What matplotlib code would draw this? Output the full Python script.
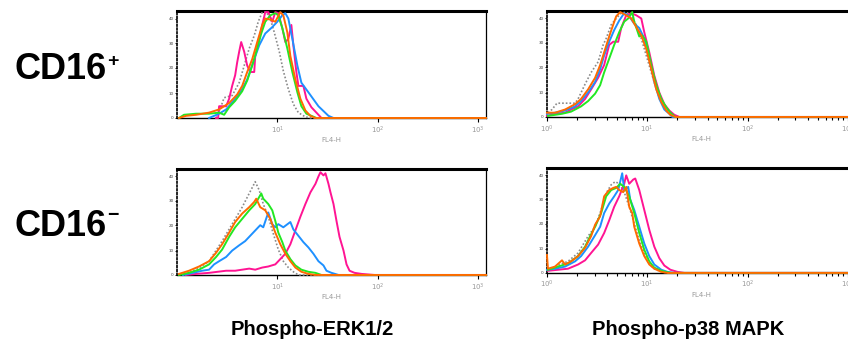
import numpy as np
import matplotlib.pyplot as plt
from matplotlib.ticker import LogLocator, NullFormatter, LogFormatterMathtext

# Each curve: (log10 FL4-H, % of panel height).

# ---- Phospho-ERK1/2, CD16+ ----
erk_pos_gray = [(0.39, 0), (0.44, 11), (0.47, 19), (0.55, 21), (0.62, 33), (0.67, 49), (0.72, 65),
                (0.77, 77), (0.81, 90), (0.85, 99), (0.89, 99), (0.93, 93), (0.97, 80), (1.02, 62),
                (1.06, 44), (1.11, 27), (1.16, 13), (1.21, 5), (1.28, 1), (1.34, 0), (3.08, 0)]
erk_pos_magenta = [(0.39, 0), (0.41, 0), (0.42, 11), (0.49, 11), (0.52, 18), (0.55, 30), (0.58, 40),
                   (0.60, 52), (0.62, 62), (0.64, 71), (0.67, 62), (0.70, 49), (0.73, 43), (0.77, 43),
                   (0.78, 58), (0.82, 74), (0.85, 87), (0.88, 99), (0.91, 99), (0.95, 90), (0.98, 99),
                   (1.01, 98), (1.05, 84), (1.08, 71), (1.11, 74), (1.14, 87), (1.16, 68), (1.19, 43),
                   (1.21, 30), (1.26, 30), (1.29, 18), (1.34, 10), (1.39, 5), (1.44, 0), (3.08, 0)]
erk_pos_blue = [(0.32, 0), (0.42, 4), (0.49, 8), (0.58, 18), (0.65, 27), (0.70, 36), (0.77, 55),
                (0.82, 68), (0.88, 79), (0.95, 85), (1.00, 90), (1.05, 96), (1.08, 98), (1.11, 93),
                (1.15, 74), (1.20, 49), (1.24, 33), (1.31, 24), (1.41, 11), (1.51, 2), (1.56, 0), (3.08, 0)]
erk_pos_green = [(0.02, 0), (0.07, 3), (0.19, 4), (0.32, 4), (0.42, 5), (0.47, 3), (0.52, 10),
                 (0.58, 16), (0.65, 25), (0.70, 35), (0.75, 49), (0.80, 65), (0.84, 79), (0.88, 90),
                 (0.93, 96), (0.98, 98), (1.01, 96), (1.05, 84), (1.10, 65), (1.15, 43), (1.20, 24),
                 (1.24, 11), (1.29, 4), (1.34, 2), (1.39, 0), (3.08, 0)]
erk_pos_orange = [(0.02, 0), (0.09, 2), (0.19, 3), (0.32, 5), (0.42, 8), (0.52, 14), (0.60, 22),
                  (0.65, 30), (0.70, 43), (0.75, 55), (0.80, 71), (0.85, 87), (0.88, 93), (0.93, 92),
                  (0.98, 90), (1.03, 99), (1.06, 96), (1.10, 80), (1.13, 58), (1.18, 36), (1.23, 18),
                  (1.28, 7), (1.33, 2), (1.38, 0), (3.08, 0)]

# ---- Phospho-p38 MAPK, CD16+ ----
p38_pos_gray = [(0.01, 4), (0.05, 7), (0.10, 13), (0.28, 13), (0.31, 17), (0.38, 31), (0.44, 42),
                (0.51, 52), (0.56, 68), (0.59, 74), (0.64, 87), (0.69, 93), (0.74, 98), (0.79, 99),
                (0.84, 96), (0.89, 87), (0.94, 74), (0.99, 58), (1.04, 42), (1.09, 26), (1.14, 15),
                (1.19, 7), (1.23, 3), (1.28, 0), (3.08, 0)]
p38_pos_magenta = [(0.00, 1), (0.08, 3), (0.18, 4), (0.24, 7), (0.31, 10), (0.38, 17), (0.44, 26),
                   (0.51, 37), (0.57, 49), (0.62, 68), (0.66, 71), (0.71, 71), (0.74, 84), (0.79, 96),
                   (0.84, 98), (0.89, 96), (0.94, 93), (0.97, 80), (1.02, 61), (1.07, 39), (1.12, 23),
                   (1.17, 12), (1.22, 6), (1.27, 2), (1.32, 0), (3.08, 0)]
p38_pos_blue = [(0.00, 3), (0.08, 4), (0.18, 6), (0.28, 10), (0.34, 15), (0.41, 23), (0.48, 33),
                (0.53, 45), (0.57, 58), (0.62, 71), (0.67, 82), (0.72, 91), (0.77, 98), (0.82, 95),
                (0.87, 88), (0.92, 84), (0.97, 74), (1.02, 55), (1.07, 33), (1.12, 17), (1.17, 7),
                (1.22, 3), (1.25, 0), (3.08, 0)]
p38_pos_green = [(0.01, 1), (0.15, 3), (0.24, 5), (0.34, 10), (0.41, 15), (0.48, 22), (0.53, 30),
                 (0.57, 42), (0.62, 55), (0.67, 68), (0.72, 80), (0.77, 90), (0.81, 93), (0.85, 99),
                 (0.87, 90), (0.92, 76), (0.95, 77), (0.99, 71), (1.04, 49), (1.09, 30), (1.14, 17),
                 (1.19, 9), (1.23, 4), (1.28, 0), (3.08, 0)]
p38_pos_orange = [(0.00, 4), (0.08, 4), (0.18, 7), (0.28, 12), (0.34, 17), (0.41, 26), (0.48, 37),
                  (0.53, 49), (0.57, 61), (0.62, 76), (0.66, 87), (0.69, 95), (0.73, 99), (0.79, 96),
                  (0.84, 93), (0.89, 85), (0.94, 77), (0.99, 64), (1.04, 45), (1.09, 26), (1.14, 14),
                  (1.19, 6), (1.23, 2), (1.28, 0), (3.08, 0)]

# ---- Phospho-ERK1/2, CD16- ----
erk_neg_gray = [(0.06, 0), (0.19, 5), (0.32, 13), (0.45, 32), (0.55, 48), (0.65, 64), (0.72, 77),
                (0.78, 88), (0.82, 80), (0.86, 67), (0.91, 55), (0.96, 39), (1.01, 24), (1.06, 13),
                (1.11, 7), (1.16, 3), (1.21, 0), (3.08, 0)]
erk_neg_magenta = [(0.09, 0), (0.19, 1), (0.32, 2), (0.49, 4), (0.58, 4), (0.65, 5), (0.72, 6),
                   (0.78, 5), (0.85, 7), (0.91, 8), (0.98, 10), (1.03, 15), (1.08, 20), (1.13, 29),
                   (1.18, 42), (1.23, 55), (1.28, 67), (1.33, 78), (1.38, 86), (1.41, 93), (1.43, 97),
                   (1.46, 94), (1.48, 96), (1.51, 86), (1.53, 78), (1.56, 67), (1.59, 51), (1.62, 36),
                   (1.66, 23), (1.69, 10), (1.72, 4), (1.77, 2), (1.84, 1), (1.97, 0), (3.08, 0)]
erk_neg_blue = [(0.06, 0), (0.16, 2), (0.25, 4), (0.32, 5), (0.37, 10), (0.42, 13), (0.49, 17),
                (0.55, 23), (0.62, 28), (0.68, 32), (0.73, 37), (0.78, 42), (0.83, 47), (0.86, 45),
                (0.91, 59), (0.95, 48), (0.98, 45), (1.01, 48), (1.06, 45), (1.13, 50), (1.16, 43),
                (1.21, 37), (1.26, 31), (1.31, 26), (1.36, 20), (1.41, 13), (1.46, 9), (1.49, 4),
                (1.54, 2), (1.61, 0), (3.08, 0)]
erk_neg_green = [(0.02, 0), (0.12, 2), (0.22, 5), (0.32, 10), (0.39, 17), (0.45, 24), (0.52, 36),
                 (0.58, 45), (0.65, 53), (0.72, 61), (0.78, 67), (0.84, 77), (0.86, 72), (0.91, 67),
                 (0.95, 61), (0.98, 51), (1.01, 40), (1.05, 31), (1.08, 23), (1.13, 15), (1.18, 9),
                 (1.24, 5), (1.31, 3), (1.38, 2), (1.44, 0), (3.08, 0)]
erk_neg_orange = [(0.02, 1), (0.12, 4), (0.22, 8), (0.32, 13), (0.39, 21), (0.45, 29), (0.52, 40),
                  (0.58, 50), (0.65, 58), (0.72, 64), (0.77, 69), (0.79, 72), (0.83, 64), (0.88, 61),
                  (0.93, 53), (0.98, 40), (1.03, 29), (1.08, 20), (1.13, 13), (1.18, 7), (1.24, 3),
                  (1.31, 1), (1.38, 0), (3.08, 0)]

# ---- Phospho-p38 MAPK, CD16- ----
p38_neg_gray = [(0.08, 6), (0.21, 11), (0.31, 19), (0.41, 35), (0.48, 44), (0.54, 60), (0.59, 76),
                (0.64, 84), (0.68, 87), (0.72, 85), (0.77, 77), (0.82, 63), (0.87, 47), (0.92, 31),
                (0.97, 19), (1.02, 9), (1.07, 4), (1.14, 1), (1.20, 0), (3.08, 0)]
p38_neg_magenta = [(0.01, 2), (0.11, 3), (0.21, 4), (0.31, 8), (0.38, 12), (0.44, 19), (0.51, 27),
                   (0.57, 38), (0.62, 50), (0.67, 63), (0.72, 73), (0.77, 85), (0.79, 93), (0.82, 85),
                   (0.86, 89), (0.88, 90), (0.92, 79), (0.97, 60), (1.02, 41), (1.07, 25), (1.12, 14),
                   (1.17, 7), (1.23, 3), (1.30, 1), (1.37, 0), (3.08, 0)]
p38_neg_blue = [(0.00, 3), (0.08, 4), (0.18, 6), (0.28, 11), (0.34, 16), (0.41, 25), (0.48, 36),
                (0.53, 44), (0.57, 57), (0.62, 66), (0.67, 73), (0.71, 79), (0.75, 95), (0.77, 79),
                (0.81, 82), (0.83, 70), (0.87, 60), (0.92, 44), (0.97, 28), (1.02, 16), (1.07, 8),
                (1.14, 3), (1.20, 1), (1.27, 0), (3.08, 0)]
p38_neg_green = [(0.01, 3), (0.11, 6), (0.21, 9), (0.31, 16), (0.38, 25), (0.43, 35), (0.48, 44),
                 (0.54, 57), (0.59, 73), (0.64, 79), (0.69, 81), (0.73, 85), (0.77, 82), (0.82, 73),
                 (0.87, 57), (0.92, 38), (0.97, 22), (1.02, 11), (1.07, 5), (1.14, 2), (1.23, 0), (3.08, 0)]
p38_neg_orange = [(0.00, 17), (0.01, 4), (0.08, 6), (0.15, 12), (0.18, 8), (0.24, 11), (0.31, 16),
                  (0.38, 24), (0.44, 35), (0.48, 46), (0.53, 54), (0.57, 73), (0.62, 79), (0.66, 81),
                  (0.69, 82), (0.72, 79), (0.76, 77), (0.79, 82), (0.82, 63), (0.85, 57), (0.87, 44),
                  (0.92, 28), (0.97, 16), (1.02, 8), (1.07, 4), (1.14, 1), (1.20, 0), (3.08, 0)]

row_labels = ['CD16', 'CD16']
row_signs = ['+', '\u2212']
col_labels = ['Phospho-ERK1/2', 'Phospho-p38 MAPK']

colors = {'gray': '#8a8a8a', 'magenta': '#ff1493', 'blue': '#1e90ff',
          'green': '#22e822', 'orange': '#ff6a00'}


def draw_panel(ax, curves, show_first_decade):
    for name, pts in curves:
        lx, pct = np.array(pts, dtype=float).T
        if name == 'gray':
            ax.plot(10 ** lx, pct, color=colors[name], ls=(0, (1, 1.2)), lw=1.2,
                    zorder=3, clip_on=False)
        else:
            ax.plot(10 ** lx, pct, color=colors[name], lw=1.4, zorder=3, clip_on=False)

    ax.set_xscale('log')
    ax.set_xlim(1, 10 ** 3.08)
    ax.set_ylim(0, 100)

    ax.spines['top'].set_linewidth(2.2)
    ax.spines['right'].set_linewidth(0.9)
    ax.spines['bottom'].set_linewidth(1.0)
    ax.spines['left'].set_linewidth(1.2)
    ax.spines['left'].set_linestyle((0, (1, 1.3)))

    if show_first_decade:
        ax.set_xticks([1, 10, 100, 1000])
        ax.xaxis.set_minor_locator(LogLocator(base=10, subs=np.arange(2, 10)))
    else:
        ax.set_xticks([10, 100, 1000])
        ax.xaxis.set_minor_locator(plt.NullLocator())
    ax.xaxis.set_major_formatter(LogFormatterMathtext())
    ax.xaxis.set_minor_formatter(NullFormatter())
    ax.tick_params(axis='x', which='major', length=3, width=0.8, pad=1.5,
                   labelsize=5, labelcolor='#9a9a9a')
    ax.tick_params(axis='x', which='minor', length=2, width=0.8)
    ax.set_xlabel('FL4-H', fontsize=5, color='#9a9a9a', labelpad=1)

    ax.set_yticks([0, 23, 47, 70, 93])
    ax.set_yticklabels(['0', '10', '20', '30', '40'])
    ax.tick_params(axis='y', length=1.5, width=0.6, pad=1, labelsize=3, labelcolor='#444444')


fig = plt.figure(figsize=(8.48, 3.45), dpi=100)

panels = [
    ([0.2087, 0.658, 0.3644, 0.310], [('gray', erk_pos_gray), ('magenta', erk_pos_magenta),
      ('blue', erk_pos_blue), ('green', erk_pos_green), ('orange', erk_pos_orange)], False),
    ([0.6450, 0.661, 0.3644, 0.307], [('gray', p38_pos_gray), ('magenta', p38_pos_magenta),
      ('blue', p38_pos_blue), ('green', p38_pos_green), ('orange', p38_pos_orange)], True),
    ([0.2087, 0.203, 0.3644, 0.307], [('gray', erk_neg_gray), ('magenta', erk_neg_magenta),
      ('blue', erk_neg_blue), ('green', erk_neg_green), ('orange', erk_neg_orange)], False),
    ([0.6450, 0.209, 0.3644, 0.304], [('gray', p38_neg_gray), ('magenta', p38_neg_magenta),
      ('blue', p38_neg_blue), ('green', p38_neg_green), ('orange', p38_neg_orange)], True),
]

for rect, curves, first in panels:
    ax = fig.add_axes(rect)
    draw_panel(ax, curves, first)

font = 'Liberation Sans'
for label, sign, yc, ys in zip(row_labels, row_signs, [0.799, 0.344], [0.822, 0.375]):
    fig.text(14 / 848, yc, label, fontsize=26, weight='bold', family=font, va='center', ha='left')
    fig.text(107 / 848, ys, sign, fontsize=14, weight='bold', family=font, va='center', ha='left')

for label, xc in zip(col_labels, [312 / 848, 688 / 848]):
    fig.text(xc, 0.046, label, fontsize=14.5, weight='bold', family=font, va='center', ha='center')

fig.savefig('out.png', dpi=100)
